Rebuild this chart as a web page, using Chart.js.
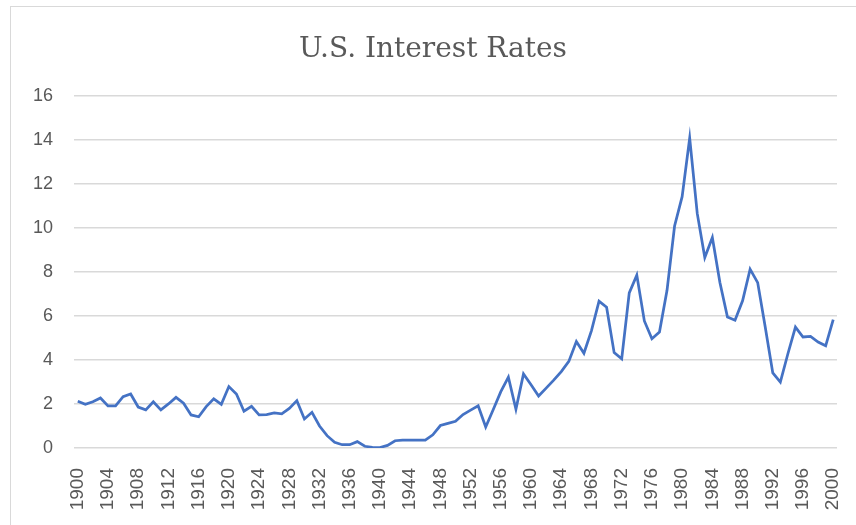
<!DOCTYPE html>
<html>
<head>
<meta charset="utf-8">
<title>U.S. Interest Rates</title>
<script src="https://cdn.jsdelivr.net/npm/chart.js@4"></script>
<style>
  html, body { margin: 0; padding: 0; background: #fff; overflow: hidden; }
  #wrap { width: 856px; height: 525px; }
</style>
</head>
<body>
<div id="wrap"><canvas id="rates" width="856" height="525"></canvas></div>
<script>
const years = [
  1900, 1901, 1902, 1903, 1904, 1905, 1906, 1907, 1908, 1909,
  1910, 1911, 1912, 1913, 1914, 1915, 1916, 1917, 1918, 1919,
  1920, 1921, 1922, 1923, 1924, 1925, 1926, 1927, 1928, 1929,
  1930, 1931, 1932, 1933, 1934, 1935, 1936, 1937, 1938, 1939,
  1940, 1941, 1942, 1943, 1944, 1945, 1946, 1947, 1948, 1949,
  1950, 1951, 1952, 1953, 1954, 1955, 1956, 1957, 1958, 1959,
  1960, 1961, 1962, 1963, 1964, 1965, 1966, 1967, 1968, 1969,
  1970, 1971, 1972, 1973, 1974, 1975, 1976, 1977, 1978, 1979,
  1980, 1981, 1982, 1983, 1984, 1985, 1986, 1987, 1988, 1989,
  1990, 1991, 1992, 1993, 1994, 1995, 1996, 1997, 1998, 1999,
  2000
];

const rates = [
  2.12, 1.98, 2.10, 2.27, 1.91, 1.91, 2.33, 2.45, 1.86, 1.73,
  2.10, 1.73, 2.00, 2.30, 2.03, 1.50, 1.42, 1.88, 2.23, 1.98,
  2.79, 2.45, 1.67, 1.89, 1.50, 1.52, 1.59, 1.55, 1.80, 2.15,
  1.32, 1.62, 1.00, 0.56, 0.26, 0.15, 0.15, 0.29, 0.08, 0.03,
  0.02, 0.12, 0.33, 0.36, 0.36, 0.36, 0.36, 0.60, 1.02, 1.12,
  1.21, 1.52, 1.72, 1.92, 0.95, 1.75, 2.56, 3.22, 1.76, 3.36,
  2.87, 2.36, 2.72, 3.08, 3.47, 3.93, 4.83, 4.30, 5.33, 6.67,
  6.39, 4.33, 4.05, 7.04, 7.85, 5.77, 4.96, 5.27, 7.16, 10.08,
  11.41, 14.07, 10.65, 8.65, 9.56, 7.51, 5.95, 5.80, 6.68, 8.12,
  7.51, 5.49, 3.41, 2.99, 4.28, 5.49, 5.04, 5.07, 4.81, 4.64,
  5.83
];

// only every 4th year gets a label on the x axis
const labelStep = 4;
const yTicks = [0, 2, 4, 6, 8, 10, 12, 14, 16];

const textGray = '#595959';
const gridGray = '#d9d9d9';
const lineBlue = '#4472C4';

// light frame round the chart, like the Excel chart area
const frame = {
  id: 'frame',
  beforeDraw(chart) {
    const ctx = chart.ctx;
    ctx.save();
    ctx.strokeStyle = gridGray;
    ctx.lineWidth = 1;
    ctx.strokeRect(10.5, 6.5, 900, 600);
    ctx.restore();
  }
};

new Chart(document.getElementById('rates'), {
  type: 'line',
  data: {
    labels: years,
    datasets: [{
      label: 'Rate',
      data: rates,
      borderColor: lineBlue,
      borderWidth: 2.75,
      pointRadius: 0,
      tension: 0,
      fill: false
    }]
  },
  options: {
    responsive: false,
    animation: false,
    layout: { padding: { left: 29, right: 19, top: 0, bottom: 0 } },
    plugins: {
      legend: { display: false },
      tooltip: { enabled: false },
      title: {
        display: true,
        text: 'U.S. Interest Rates',
        color: textGray,
        font: { family: "'DejaVu Serif', 'Liberation Serif', serif", size: 28, weight: 'normal' },
        padding: { top: 33, bottom: 29 }
      }
    },
    scales: {
      x: {
        offset: true,
        grid: { display: false },
        border: { display: false },
        ticks: {
          autoSkip: false,
          minRotation: 90,
          maxRotation: 90,
          padding: 12,
          color: textGray,
          font: { family: "'Liberation Sans', Arial, sans-serif", size: 19 },
          callback: function (value, index) {
            const y = years[index];
            return (y - years[0]) % labelStep === 0 ? String(y) : '';
          }
        },
        afterFit: (scale) => {
          scale.height = 77;
          // labels fit inside the offset, no extra side room needed
          scale.paddingLeft = 0;
          scale.paddingRight = 0;
        }
      },
      y: {
        min: yTicks[0],
        max: yTicks[yTicks.length - 1],
        afterBuildTicks: (scale) => { scale.ticks = yTicks.map(v => ({ value: v })); },
        grid: { color: gridGray, lineWidth: 1.5, drawTicks: false },
        border: { display: false },
        ticks: {
          padding: 21,
          color: textGray,
          font: { family: "'Liberation Sans', Arial, sans-serif", size: 18 }
        },
        afterFit: (scale) => { scale.width = 45; }
      }
    }
  },
  plugins: [frame]
});
</script>
</body>
</html>
